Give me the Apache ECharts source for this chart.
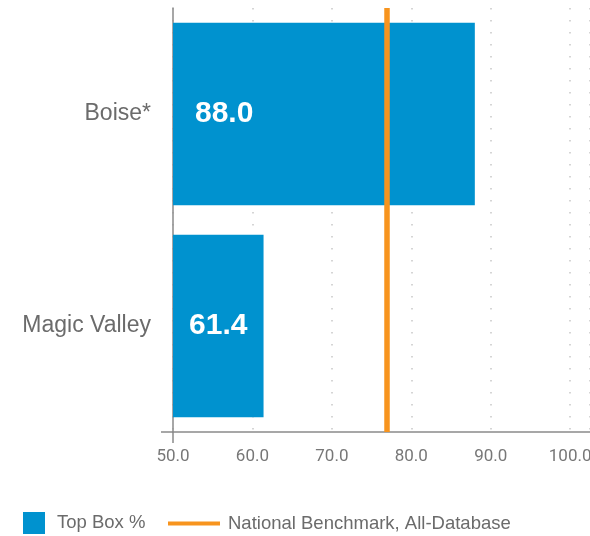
<!DOCTYPE html>
<html>
<head>
<meta charset="utf-8">
<script src="https://cdn.jsdelivr.net/npm/echarts@6/dist/echarts.min.js"></script>
<style>
  html, body { margin: 0; padding: 0; background: #fff; }
  #chart { width: 590px; height: 536px; }
</style>
</head>
<body>
<div id="chart"></div>
<script>
// Top box % by region, with the national benchmark line
const regions = ['Boise*', 'Magic Valley']
const topBox = [88.0, 61.4]
const benchmark = 76.9
const xTicks = [50, 60, 70, 80, 90, 100]

const BLUE = '#0092CF'
const ORANGE = '#F7941E'
const GREY_TEXT = '#6b6b6b'
const AXIS = '#8a8a8a'

const chart = echarts.init(document.getElementById('chart'))

// label placement differs a little per bar in the original
const labelPos = [
  { position: 'insideLeft', distance: 22 },
  { position: 'inside' },
]

chart.setOption({
  animation: false,
  grid: { left: 173, right: 0, top: 8, bottom: 104, outerBoundsMode: 'none', containLabel: false },
  legend: [
    {
      data: [{ name: 'Top Box %', icon: 'rect' }],
      left: 23, top: 512, padding: 0,
      itemWidth: 22, itemHeight: 22,
      textStyle: { color: GREY_TEXT, fontSize: 18.5, fontFamily: 'Liberation Sans', padding: [0, 0, 0, 7] },
    },
    {
      data: [{ name: 'National Benchmark, All-Database', icon: 'rect', itemStyle: { color: ORANGE } }],
      left: 168, top: 514, padding: 0,
      itemWidth: 52, itemHeight: 4,
      textStyle: { color: GREY_TEXT, fontSize: 18.5, fontFamily: 'Liberation Sans', padding: [0, 0, 0, 3] },
    },
  ],
  xAxis: {
    type: 'value',
    min: xTicks[0],
    max: 102.5,
    interval: 10,
    axisLine: { show: true, lineStyle: { color: AXIS, width: 1.5 } },
    axisTick: { show: false },
    axisLabel: {
      showMaxLabel: false,
      hideOverlap: false,
      margin: 16,
      color: '#777',
      fontSize: 17,
      fontFamily: 'Roboto',
      formatter: v => (xTicks.includes(v) ? v.toFixed(1) : ''),
    },
    splitLine: { show: true, lineStyle: { color: '#c8c8c8', width: 1.5, type: [1.5, 10.5] } },
  },
  yAxis: {
    type: 'category',
    data: regions,
    inverse: true,
    axisLine: { show: true, lineStyle: { color: AXIS, width: 1.5 } },
    axisTick: { show: false },
    axisLabel: { margin: 22, color: GREY_TEXT, fontSize: 23, fontFamily: 'Liberation Sans' },
  },
  series: [
    {
      name: 'Top Box %',
      type: 'bar',
      barCategoryGap: '14%',
      itemStyle: { color: BLUE },
      label: {
        show: true,
        color: '#fff',
        fontSize: 30,
        fontWeight: 'bold',
        fontFamily: 'Liberation Sans',
        formatter: p => p.value.toFixed(1),
      },
      data: topBox.map((v, i) => ({ value: v, label: labelPos[i] })),
    },
    {
      name: 'National Benchmark, All-Database',
      type: 'line',
      data: [],
      itemStyle: { color: ORANGE },
      markLine: {
        silent: true,
        symbol: 'none',
        label: { show: false },
        lineStyle: { color: ORANGE, width: 5.5, type: 'solid' },
        data: [{ xAxis: benchmark }],
      },
    },
  ],
})

// the axes cross a little past the origin (short overhang left and below)
const ox = chart.convertToPixel({ xAxisIndex: 0 }, xTicks[0])
const rect = chart.getModel().getComponent('grid').coordinateSystem.getRect()
const bottomY = rect.y + rect.height
chart.setOption({
  graphic: [
    { type: 'line', shape: { x1: ox - 12, y1: bottomY, x2: ox, y2: bottomY }, style: { stroke: AXIS, lineWidth: 1.5 } },
    { type: 'line', shape: { x1: ox, y1: bottomY, x2: ox, y2: bottomY + 11 }, style: { stroke: AXIS, lineWidth: 1.5 } },
  ],
})
</script>
</body>
</html>
